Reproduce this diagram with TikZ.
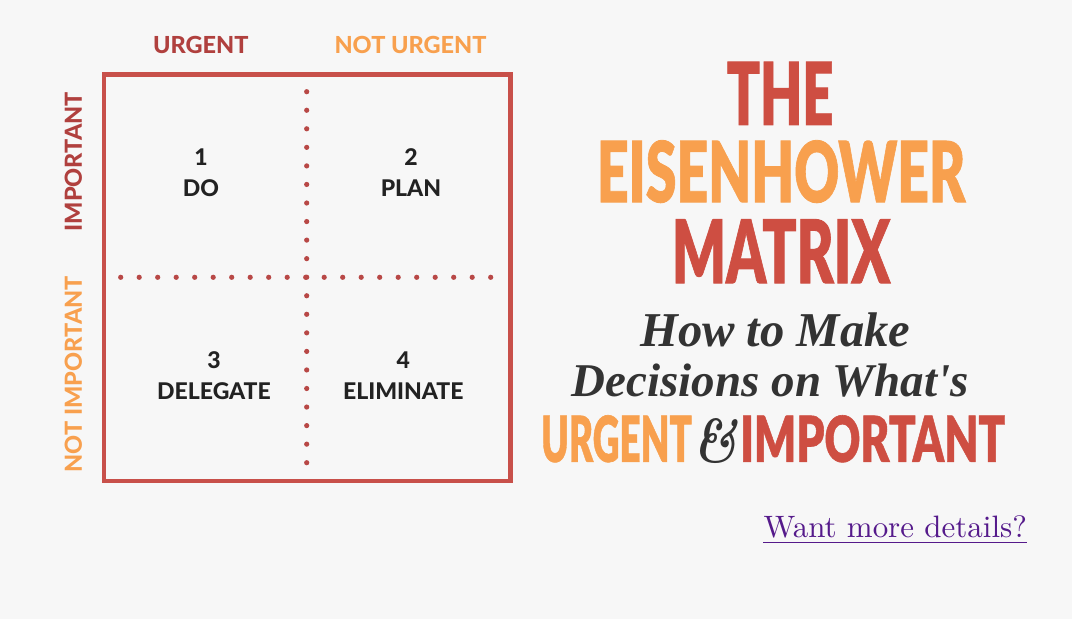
\documentclass[tikz,border=0pt]{standalone}
\usepackage{fontspec}
\usepackage{graphicx}
\usetikzlibrary{calc}
\newfontfamily\latofont{Lato}
\IfFontExistsTF{Lato Black}
    {\newfontfamily\titlefont{Lato Black}[FakeBold=1]}
    {\newfontfamily\titlefont{Lato}[UprightFeatures={FakeBold=3}]}
\IfFontExistsTF{Lato Heavy}
    {\newfontfamily\labelfont{Lato Heavy}}
    {\newfontfamily\labelfont{Lato}[BoldFont=*, BoldFeatures={FakeBold=1.2}]}
\newfontfamily\handfont{Liberation Serif}
\definecolor{bggray}{HTML}{F7F7F7}
\definecolor{boxred}{HTML}{C8504A}
\definecolor{dotred}{HTML}{B84846}
\definecolor{labelred}{HTML}{B0403E}
\definecolor{titlered}{HTML}{CE4E42}
\definecolor{eisorange}{HTML}{F8A04E}
\definecolor{quadtext}{HTML}{222222}
\definecolor{scriptgray}{HTML}{333333}
\definecolor{linkpurple}{HTML}{551A8B}

\begin{document}
\begin{tikzpicture}[x=1pt,y=-1pt,
    side/.style={font=\labelfont\fontsize{23.5}{28}\selectfont, inner sep=0pt},
    qtext/.style={font=\labelfont\fontsize{23}{28}\selectfont, text=quadtext, anchor=base, inner sep=0pt},
    headline/.style={font=\titlefont, inner sep=0pt, anchor=north west},
    scriptline/.style={font=\handfont\bfseries\itshape, text=scriptgray, inner sep=0pt, anchor=base west}]
    \fill[bggray] (0,0) rectangle (1072,619);
    \useasboundingbox (0,0) rectangle (1072,619);
    % the matrix
    \draw[boxred, line width=4.3pt] (104,74.5) rectangle (510.5,481);
    \foreach \k in {0,...,20} {
        \fill[dotred] (306.7,{91.7+18.55*\k}) circle (2.6pt);
        \fill[dotred] ({120.7+18.5*\k},277.3) circle (2.6pt);
    }
    \node[side, text=labelred] (urg) at (200.8,45.3) {URGENT};
    \node[side, text=eisorange] (noturg) at (410.5,45.3) {NOT URGENT};
    \node[side, text=labelred, rotate=90] (imp) at (73.3,161.7) {IMPORTANT};
    \node[side, text=eisorange, rotate=90] (notimp) at (73.3,374.2) {NOT IMPORTANT};
    \foreach \n/\w/\x/\y in {1/DO/201/165, 2/PLAN/411/165, 3/DELEGATE/214/368.3, 4/ELIMINATE/403.3/368.3} {
        \node[qtext] (num\n) at (\x,\y) {\n};
        \node[qtext] (word\n) at (\x,\y+31) {\w};
    }
    % the title
    \node[headline, text=titlered] (the) at (726.7,61.7) {\resizebox{106.6pt}{63pt}{THE}};
    \node[headline, text=eisorange] (eisen) at (596.7,140) {\resizebox{368.3pt}{62pt}{EISENHOWER}};
    \node[headline, text=titlered] (matrix) at (671.7,219) {\resizebox{218.3pt}{64pt}{MATRIX}};
    \node[scriptline] (howto) at (640,346) {\resizebox{270pt}{!}{How to Make}};
    \node[scriptline] (decide) at (571.7,396.7) {\resizebox{396.6pt}{!}{Decisions on What's}};
    \node[headline, text=eisorange] (urgent) at (541,415) {\resizebox{150.7pt}{46.7pt}{URGENT}};
    \node[headline, font=\bfseries\itshape, text=scriptgray] (amp) at (693,418) {\resizebox{44pt}{44pt}{\&}};
    \node[headline, text=titlered] (important) at (740,415) {\resizebox{265pt}{46.7pt}{IMPORTANT}};
    % the link
    \node[inner sep=0pt, anchor=base west, text=linkpurple] (link) at (763.3,537) {\resizebox{263.4pt}{!}{Want more details?}};
    \draw[linkpurple, line width=1.6pt] ($(link.base west)+(0,5.3)$) -- ($(link.base east)+(0,5.3)$);
\end{tikzpicture}
\end{document}
